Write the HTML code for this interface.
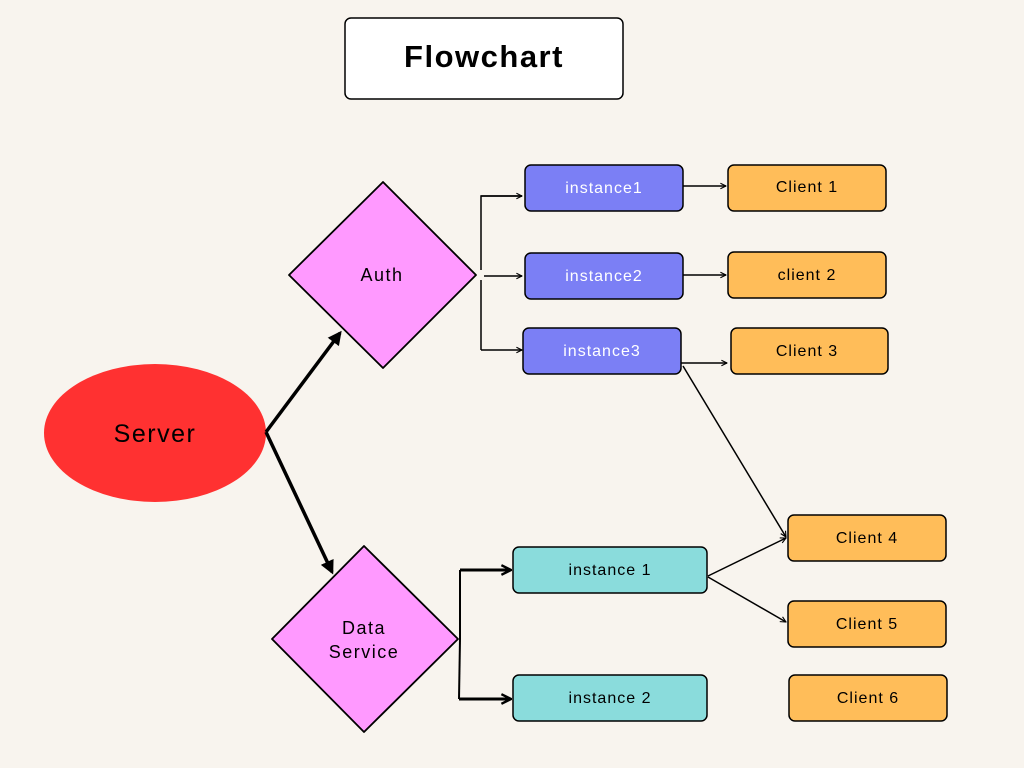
<!DOCTYPE html>
<html><head><meta charset="utf-8"><style>
html,body{margin:0;padding:0;background:#f8f4ee;}
svg{display:block}
text{font-family:"Liberation Sans",sans-serif;}
</style></head><body>
<svg width="1024" height="768" viewBox="0 0 1024 768" xmlns="http://www.w3.org/2000/svg">
<defs>
<marker id="a" viewBox="0 0 10 10" refX="9" refY="5" markerWidth="7" markerHeight="7" orient="auto" markerUnits="userSpaceOnUse"><path d="M1,1 L9,5 L1,9" fill="none" stroke="#000" stroke-width="1.6"/></marker>
<marker id="b" viewBox="0 0 10 10" refX="8" refY="5" markerWidth="14" markerHeight="14" orient="auto" markerUnits="userSpaceOnUse"><path d="M0,0 L10,5 L0,10 z" fill="#000"/></marker>
<marker id="c" viewBox="0 0 10 10" refX="9" refY="5" markerWidth="12" markerHeight="12" orient="auto" markerUnits="userSpaceOnUse"><path d="M1,1 L9,5 L1,9" fill="none" stroke="#000" stroke-width="2"/></marker>
</defs>
<rect x="0" y="0" width="1024" height="768" fill="#f8f4ee"/>
<rect x="345" y="18" width="278" height="81" rx="6" fill="#fff" stroke="#000" stroke-width="1.5"/>
<text x="484" y="67" font-size="31" font-weight="bold" text-anchor="middle" letter-spacing="1.5">Flowchart</text>

<ellipse cx="155" cy="433" rx="111" ry="69" fill="#ff3131"/>
<text x="155" y="442" font-size="25" text-anchor="middle" letter-spacing="1.5">Server</text>

<path d="M383,182 L476,275 L383,368 L289,275 Z" fill="#ff99ff" stroke="#000" stroke-width="1.8" stroke-linejoin="round"/>
<text x="382" y="281" font-size="18" text-anchor="middle" letter-spacing="1.5">Auth</text>
<path d="M364,546 L458,639 L364,732 L272,639 Z" fill="#ff99ff" stroke="#000" stroke-width="1.8" stroke-linejoin="round"/>
<text x="364" y="634" font-size="18" text-anchor="middle" letter-spacing="1.5">Data</text>
<text x="364" y="658" font-size="18" text-anchor="middle" letter-spacing="1.5">Service</text>

<g stroke="#000" stroke-width="1.5">
<rect x="525" y="165" width="158" height="46" rx="6" fill="#7b7ff5"/>
<rect x="525" y="253" width="158" height="46" rx="6" fill="#7b7ff5"/>
<rect x="523" y="328" width="158" height="46" rx="6" fill="#7b7ff5"/>
<rect x="513" y="547" width="194" height="46" rx="6" fill="#8adcdc"/>
<rect x="513" y="675" width="194" height="46" rx="6" fill="#8adcdc"/>
<rect x="728" y="165" width="158" height="46" rx="6" fill="#ffbd59"/>
<rect x="728" y="252" width="158" height="46" rx="6" fill="#ffbd59"/>
<rect x="731" y="328" width="157" height="46" rx="6" fill="#ffbd59"/>
<rect x="788" y="515" width="158" height="46" rx="6" fill="#ffbd59"/>
<rect x="788" y="601" width="158" height="46" rx="6" fill="#ffbd59"/>
<rect x="789" y="675" width="158" height="46" rx="6" fill="#ffbd59"/>
</g>
<g font-size="16" text-anchor="middle" letter-spacing="1">
<text x="604" y="193" fill="#fff">instance1</text>
<text x="604" y="281" fill="#fff">instance2</text>
<text x="602" y="356" fill="#fff">instance3</text>
<text x="610" y="575">instance 1</text>
<text x="610" y="703">instance 2</text>
<text x="807" y="192">Client 1</text>
<text x="807" y="280">client 2</text>
<text x="807" y="356">Client 3</text>
<text x="867" y="543">Client 4</text>
<text x="867" y="629">Client 5</text>
<text x="868" y="703">Client 6</text>
</g>

<g fill="none" stroke="#000">
<line x1="266" y1="432" x2="340" y2="333" stroke-width="3.5" marker-end="url(#b)"/>
<line x1="266" y1="432" x2="332" y2="572" stroke-width="3.5" marker-end="url(#b)"/>
<g stroke-width="1.5">
<polyline points="522,196 481,196 481,270"/>
<line x1="481" y1="280" x2="481" y2="350"/>
<line x1="481" y1="196" x2="522" y2="196" marker-end="url(#a)"/>
<line x1="484" y1="276" x2="522" y2="276" marker-end="url(#a)"/>
<line x1="481" y1="350" x2="522" y2="350" marker-end="url(#a)"/>
<line x1="683" y1="186" x2="726" y2="186" marker-end="url(#a)"/>
<line x1="683" y1="275" x2="726" y2="275" marker-end="url(#a)"/>
<line x1="681" y1="363" x2="727" y2="363" marker-end="url(#a)"/>
<line x1="683" y1="366" x2="786" y2="537" marker-end="url(#a)"/>
<line x1="708" y1="576" x2="786" y2="538" marker-end="url(#a)"/>
<line x1="708" y1="577" x2="786" y2="622" marker-end="url(#a)"/>
</g>
<polyline points="460,639 460,570" stroke-width="2"/>
<polyline points="460,639 459,699" stroke-width="2"/>
<line x1="460" y1="570" x2="511" y2="570" stroke-width="3" marker-end="url(#c)"/>
<line x1="459" y1="699" x2="511" y2="699" stroke-width="3" marker-end="url(#c)"/>
</g>
</svg>
</body></html>
